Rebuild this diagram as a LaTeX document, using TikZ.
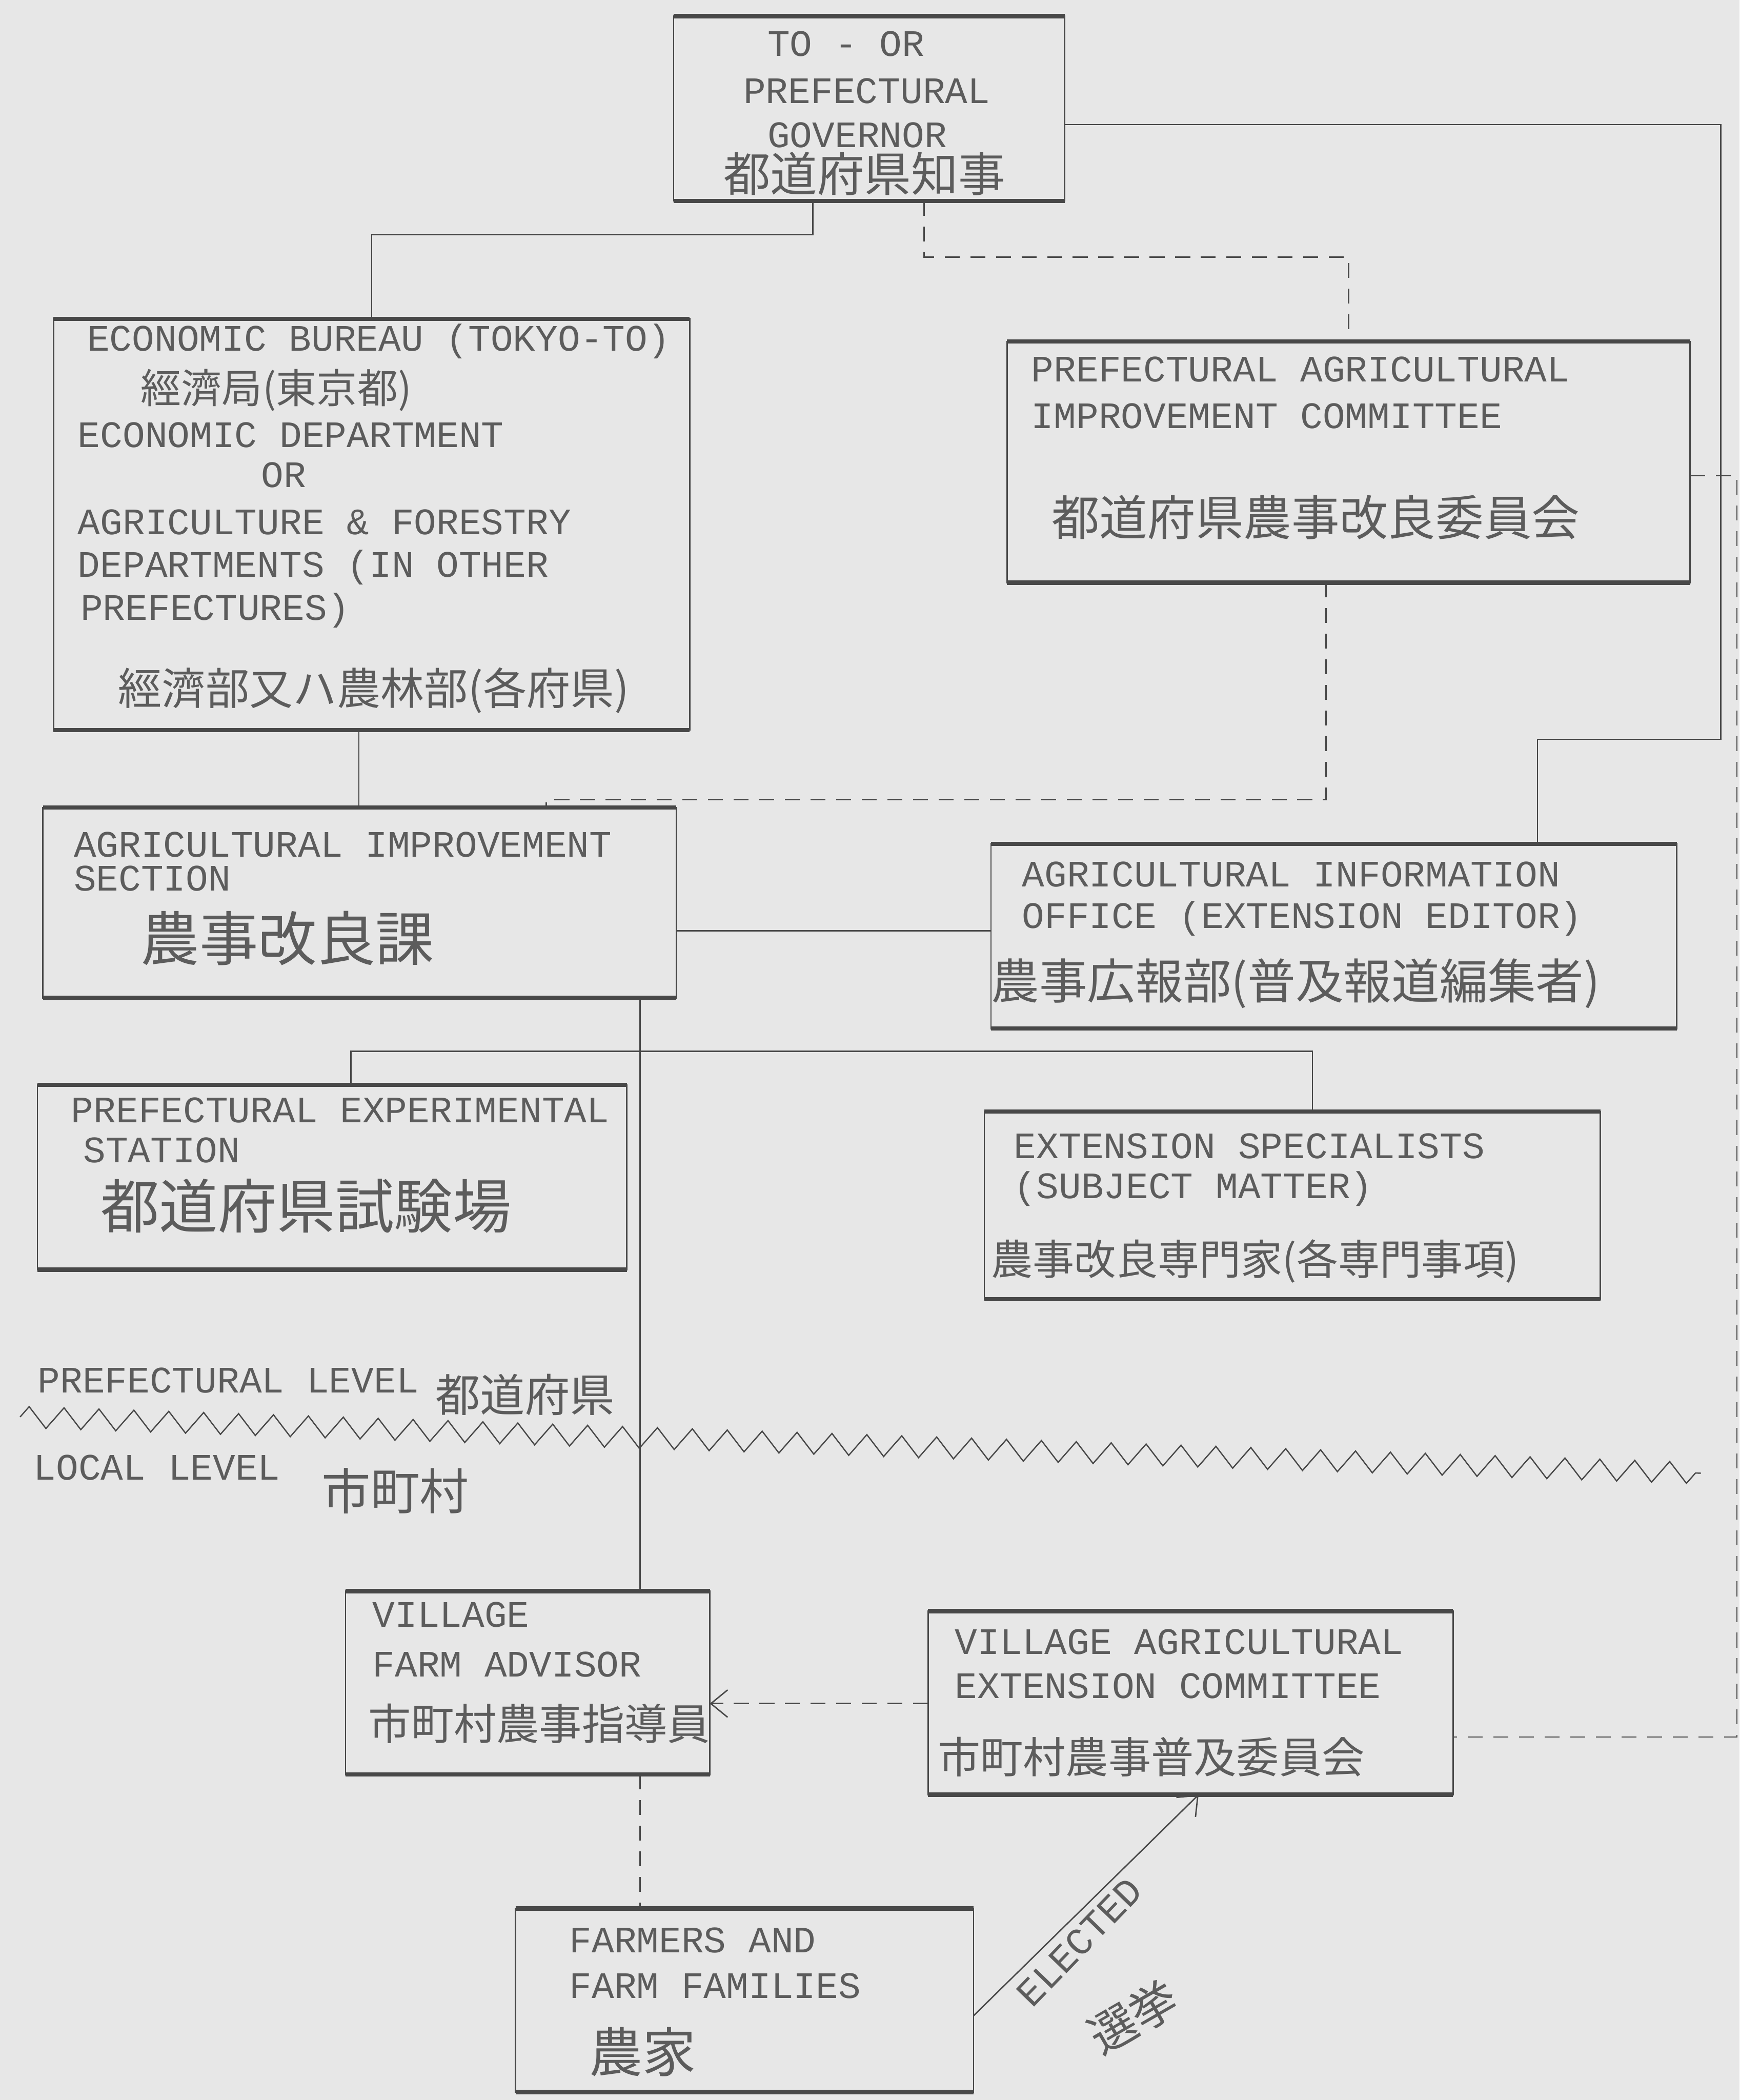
\documentclass[tikz,border=0pt]{standalone}
\usepackage{fontspec}
\setmonofont{Liberation Mono}
\newfontfamily\jafont{Noto Sans CJK JP}
\usetikzlibrary{fit,arrows.meta,decorations.pathmorphing}
\definecolor{bgc}{RGB}{231,231,231}
\definecolor{txtc}{RGB}{92,92,92}
\definecolor{linec}{RGB}{72,72,72}
\tikzset{
  box/.style={draw=linec, line width=1.3pt, inner sep=0pt, outer sep=0pt},
  edge/.style={draw=linec, line width=4pt},
  en/.style={anchor=base west, inner sep=0pt, text=txtc, font=\ttfamily\fontsize{35}{41}\selectfont},
  ja/.style={anchor=base west, inner sep=0pt, text=txtc, font=\jafont\fontsize{#1}{#1}\selectfont},
  conn/.style={draw=linec, line width=1.3pt},
  dconn/.style={conn, dash pattern=on 14pt off 10pt},
  tip/.style={-{Straight Barb[length=0.55cm,width=0.9cm,line width=1.3pt]}},
  zz/.style={draw=linec, line width=1.2pt, decorate, decoration={zigzag, segment length=1.15cm, amplitude=0.35cm}}
}
\begin{document}
\begin{tikzpicture}[x=0.0441cm, y=-0.0441cm]
\fill[bgc] (0,0) rectangle (1299,1568);
\useasboundingbox (0,0) rectangle (1299,1568);

% boxes
\node[box, fit={(503,12) (795,150)}] (gov) {};
\node[box, fit={(40,238) (515,545)}] (eb) {};
\node[box, fit={(752,255) (1262,435)}] (pac) {};
\node[box, fit={(32,603) (505,745)}] (ais) {};
\node[box, fit={(740,630) (1252,768)}] (aio) {};
\node[box, fit={(28,810) (468,948)}] (pes) {};
\node[box, fit={(735,830) (1195,970)}] (exs) {};
\node[box, fit={(258,1188) (530,1325)}] (vfa) {};
\node[box, fit={(693,1203) (1085,1340)}] (vaec) {};
\node[box, fit={(385,1425) (727,1562)}] (fff) {};
\foreach \b in {gov,eb,pac,ais,aio,pes,exs,vfa,vaec,fff}{
  \draw[edge] (\b.north west) -- (\b.north east);
  \draw[edge] (\b.south west) -- (\b.south east);
}

% texts
\node[en] (g1t) at (573,42) {TO - OR};
\node[en] (g2t) at (555,77) {PREFECTURAL};
\node[en] (g3t) at (573,110) {GOVERNOR};
\node[ja=44] (g4t) at (540,143) {都道府県知事};

\node[en] (e1t) at (65,262) {ECONOMIC BUREAU (TOKYO-TO)};
\node[ja=38] (e2t) at (105,301) {經濟局(東京都)};
\node[en] (e3t) at (58,334) {ECONOMIC DEPARTMENT};
\node[en] (e4t) at (195,364) {OR};
\node[en] (e5t) at (58,399) {AGRICULTURE \& FORESTRY};
\node[en] (e6t) at (58,431) {DEPARTMENTS (IN OTHER};
\node[en] (e7t) at (60,463) {PREFECTURES)};
\node[ja=41] (e8t) at (88,526) {經濟部又ハ農林部(各府県)};

\node[en] (p1t) at (770,285) {PREFECTURAL AGRICULTURAL};
\node[en] (p2t) at (770,320) {IMPROVEMENT COMMITTEE};
\node[ja=45] (p3t) at (785,400) {都道府県農事改良委員会};

\node[en] (a1t) at (55,640) {AGRICULTURAL IMPROVEMENT};
\node[en] (a2t) at (55,665) {SECTION};
\node[ja=55] (a3t) at (105,717) {農事改良課};

\node[en] (i1t) at (763,662) {AGRICULTURAL INFORMATION};
\node[en] (i2t) at (763,693) {OFFICE (EXTENSION EDITOR)};
\node[ja=45] (i3t) at (740,746) {農事広報部(普及報道編集者)};

\node[en] (s1t) at (53,838) {PREFECTURAL EXPERIMENTAL};
\node[en] (s2t) at (62,868) {STATION};
\node[ja=55] (s3t) at (75,917) {都道府県試験場};

\node[en] (x1t) at (757,865) {EXTENSION SPECIALISTS};
\node[en] (x2t) at (757,895) {(SUBJECT MATTER)};
\node[ja=39] (x3t) at (740,952) {農事改良専門家(各専門事項)};

\node[en] (l1t) at (28,1040) {PREFECTURAL LEVEL};
\node[ja=42] (l2t) at (325,1054) {都道府県};
\node[en] (l3t) at (25,1105) {LOCAL LEVEL};
\node[ja=46] (l4t) at (240,1127) {市町村};

\node[en] (v1t) at (278,1215) {VILLAGE};
\node[en] (v2t) at (278,1252) {FARM ADVISOR};
\node[ja=40] (v3t) at (275,1299) {市町村農事指導員};

\node[en] (c1t) at (713,1235) {VILLAGE AGRICULTURAL};
\node[en] (c2t) at (713,1268) {EXTENSION COMMITTEE};
\node[ja=40] (c3t) at (700,1324) {市町村農事普及委員会};

\node[en] (f1t) at (425,1458) {FARMERS AND};
\node[en] (f2t) at (425,1492) {FARM FAMILIES};
\node[ja=50] (f3t) at (440,1547) {農家};

\node[en, anchor=center, rotate=46, font=\ttfamily\fontsize{36}{41}\selectfont] (elt) at (806,1450) {ELECTED};
\node[ja=44, anchor=center, rotate=30] (elj) at (846,1506) {選挙};

% connectors
\coordinate (a1) at (607,175);
\draw[conn] (gov.south -| a1) -- (a1) -| (eb.north);

\coordinate (a2) at (690,192);
\draw[dconn] (gov.south -| a2) -- (a2) -| (pac.north);

\coordinate (b1) at (1285,93);
\coordinate (b2) at (1285,552);
\coordinate (b3) at (1148,552);
\draw[conn] (gov.east |- b1) -- (b1) -- (b2) -- (b3) -- (aio.north -| b3);

\coordinate (c1) at (268,570);
\draw[conn] (eb.south -| c1) -- (ais.north -| c1);

\coordinate (d1) at (990,597);
\coordinate (d2) at (408,597);
\draw[dconn] (pac.south -| d1) -- (d1) -- (d2) -- (ais.north -| d2);

\coordinate (e1) at (620,695);
\draw[conn] (ais.east |- e1) -- (aio.west |- e1);

\coordinate (f0) at (478,700);
\draw[conn] (ais.south -| f0) -- (vfa.north -| f0);

\coordinate (f1) at (262,785);
\coordinate (f2) at (980,785);
\draw[conn] (pes.north -| f1) -- (f1) -- (f2) -- (exs.north -| f2);

\coordinate (h1) at (1297,355);
\coordinate (h2) at (1297,1297);
\draw[dconn] (pac.east |- h1) -- (h1) -- (h2) -- (vaec.east |- h2);

\coordinate (k1) at (600,1272);
\draw[dconn, tip] (vaec.west |- k1) -- (vfa.east |- k1);

\draw[dconn] (vfa.south -| f0) -- (fff.north -| f0);

\coordinate (m0) at (727,1505);
\coordinate (m1) at (895,1345);
\draw[conn, tip] (fff.east |- m0) -- (vaec.south -| m1);

% level boundary
\coordinate (z0) at (15,1058);
\coordinate (z1) at (1270,1100);
\draw[zz] (z0) -- (z1);
\end{tikzpicture}
\end{document}
